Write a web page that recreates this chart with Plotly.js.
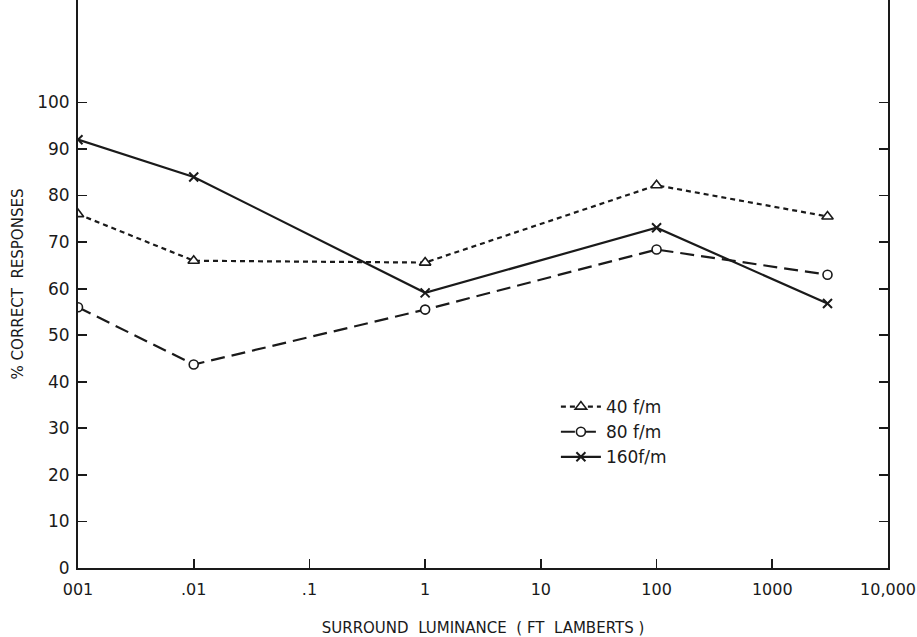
<!DOCTYPE html>
<html>
<head>
<meta charset="utf-8">
<script src="https://cdn.plot.ly/plotly-3.0.1.min.js"></script>
<style>html,body{margin:0;padding:0;background:#fff;}#chart{width:917px;height:637px;}</style>
</head>
<body>
<div id="chart"></div>
<script>
const luminance = [0.001, 0.01, 1, 100, 3000];
const resp40 = [76, 66, 65.6, 82.2, 75.5];
const resp80 = [56, 43.7, 55.5, 68.4, 63];
const resp160 = [92, 84, 59.1, 73.1, 56.8];
const xTickVals = [0.001, 0.01, 0.1, 1, 10, 100, 1000, 10000];
const xTickText = ["001", ".01", ".1", "1", "10", "100", "1000", "10,000"];
const yTickVals = [0, 10, 20, 30, 40, 50, 60, 70, 80, 90, 100];
const seriesNames = ["40 f/m", "80 f/m", "160f/m"];

const ink = "#1a1a1a";
const traces = [
  {x: luminance, y: resp40, name: seriesNames[0], mode: "lines+markers",
   line: {color: ink, width: 2.2, dash: "5px,4px"},
   marker: {symbol: "triangle-up", size: 10, color: "#fff", line: {color: ink, width: 1.6}}},
  {x: luminance, y: resp80, name: seriesNames[1], mode: "lines+markers",
   line: {color: ink, width: 2.2, dash: "14px,7px"},
   marker: {symbol: "circle", size: 9, color: "#fff", line: {color: ink, width: 1.6}}},
  {x: luminance, y: resp160, name: seriesNames[2], mode: "lines+markers",
   line: {color: ink, width: 2.2},
   marker: {symbol: "x-thin-open", size: 9, color: ink, line: {color: ink, width: 2}}}
];

const fam = "DejaVu Sans, sans-serif";
const layout = {
  width: 917, height: 637,
  margin: {l: 78, r: 29, t: 0, b: 69},
  paper_bgcolor: "#fff", plot_bgcolor: "#fff",
  showlegend: true,
  legend: {x: 0.59, y: 0.315, xanchor: "left", yanchor: "top", bgcolor: "rgba(0,0,0,0)",
           font: {family: fam, size: 17, color: ink}, tracegroupgap: 0, itemwidth: 40},
  xaxis: {
    type: "log", range: [-3, 4], tickvals: xTickVals, ticktext: xTickText,
    showline: true, linecolor: ink, linewidth: 2, mirror: false,
    ticks: "inside", ticklen: 9, tickwidth: 1.8, tickcolor: ink,
    ticklabelstandoff: 6,
    showgrid: false, zeroline: false,
    tickfont: {family: fam, size: 16, color: ink},
    title: {text: "SURROUND  LUMINANCE  ( FT  LAMBERTS )", standoff: 24,
            font: {family: fam, size: 15, color: ink}}
  },
  yaxis: {
    range: [0, 122], tickvals: yTickVals,
    showline: true, linecolor: ink, linewidth: 2, mirror: "ticks",
    ticks: "inside", ticklen: 9, tickwidth: 1.8, tickcolor: ink,
    ticklabelstandoff: 3,
    showgrid: false, zeroline: false,
    tickfont: {family: fam, size: 17, color: ink},
    title: {text: "% CORRECT  RESPONSES", standoff: 10,
            font: {family: fam, size: 15, color: ink}}
  }
};
Plotly.newPlot("chart", traces, layout, {displayModeBar: false, staticPlot: true});
</script>
</body>
</html>
